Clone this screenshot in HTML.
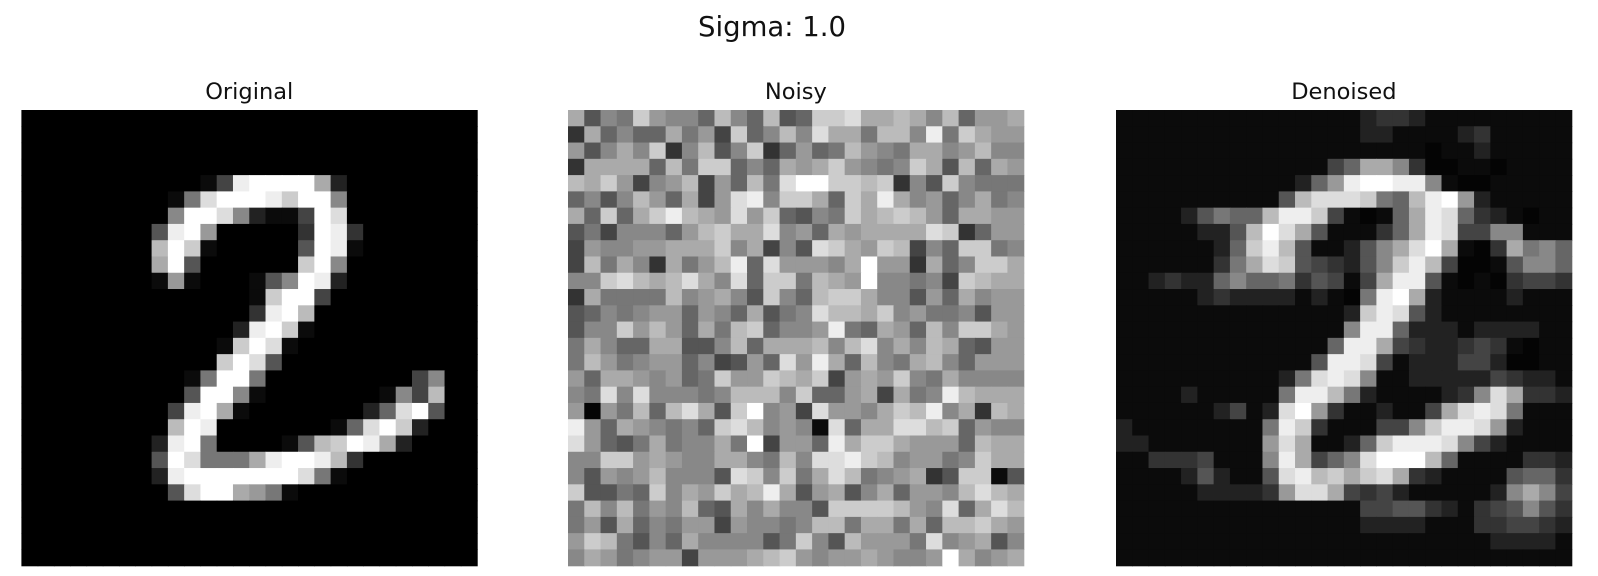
<!DOCTYPE html>
<html><head><meta charset="utf-8"><style>
html,body{margin:0;padding:0;background:#fff;}
svg{display:block;font-family:"DejaVu Sans","Liberation Sans",sans-serif;}
</style></head><body>
<svg id="fig" width="1598" height="576" viewBox="0 0 1598 576" xmlns="http://www.w3.org/2000/svg">
<rect x="0" y="0" width="1598" height="576" fill="#fff"/>
<text x="772" y="36" font-size="27.5" text-anchor="middle" fill="#111">Sigma: 1.0</text>
<g id="panels"></g>
</svg>
<script>
const panelTitles = ["Original", "Noisy", "Denoised"];
const originalRows = [
"0000000000000000000000000000","0000000000000000000000000000","0000000000000000000000000000","0000000000000000000000000000",
"0000000000014effffa200000000","00000000017dfffecff800000000","0000000008ffd82114fd00000000","000000005ef9000003fe30000000",
"00000000bfc1000005fe10000000","00000000af5000000cf800000000","00000000191000158fe200000000","000000000000001cff4000000000",
"000000000000003efb0000000000","00000000000002efc10000000000","0000000000001cfd100000000000","000000000000cfd5000000000000",
"000000000017ff70000000004800","00000000005ff810000000184b00","0000000004efa1000000026df500","000000000bfe000000016dfc2000",
"000000002ef7000015bcfea20000","000000005fd777aeffeb30000000","000000002efffffffd7100000000","0000000005dffa97100000000000",
"0000000000000000000000000000","0000000000000000000000000000","0000000000000000000000000000","0000000000000000000000000000"];
const noisyRows = [
"a587c9886b86b56ccdaaba8b699a","3a6866a794c68b8daa7bb8e7ca99","958a8c38b58c36967b987aa89b88","3aaaa6b7cc686a9ac9878ca5b6a9",
"bac9489b496b7dffccbc385c8777","6858b96a49de8cca6caea8968a78","a6c6aceba9d9c6587cabcb96aa99","57488869bcaad896a9aaaadc3699",
"498899aaac8a485dca9cb486cc78","4b7a83a79be6d9998af993a68cca","88cdbabda8d6cc7ba9f88784cbaa","3a7777b89a85c86bcca88596a899",
"56878996986a578dbbac89778599","588c9b96a7bc6889e76a96b8cca9","7a866aa558b6aaab8bd8a8ba6599","7b97899684596d9ea6b87ab86999",
"96aa98967c99cbac49a9c87a8888","87d8d88878bbb8c669a4a78ebaaa","9097b6bda5cf894d998acbe8a3ba","e96a98786cdb8981d6aaddbc6988",
"d9657a788a7f4996eacca9996baa","88cc9a988aa87b8ddecb89978caa","85989b8885dc8c7adb789a35cc15","c5576c8a9cabea59a58a6998bdba",
"7b8b798b65a8a885ccccb98d6adb","795a68799498878bb7aa7a6bbca9","9cb7586a888857c85b9997d89a58","8a978994999abc9899a9889fa89a"];
const denoisedRows = [
"1111111111111112332111111111","1111111111111112211112311111","1111111111111111111011211111","111111111111146aa83001101111",
"11111111111269effee810011111","11111111115bdddc76bef9211111","111125766beec41016aed6321011","11111225bfda511136aed4488111",
"11111126ceb511258adfa103a786","11111137adc543258ceb40015886","1123226866735414aee510103443","1111123222212107efa211112111",
"111111111111112ced5211111111","111111111111118ee62221222211","11111111111116eea43223431011","1111111111115eed412224420011",
"111111111127ded8112222243221","11112111117eeb721111238da332","1111112412df93112114aded7111","2111111117ec3111448ceed92111",
"2211111119da1126ceeed8421111","1133341118ea468dfffb61111332","1111252115debcacda3211115663","11111222239dda43421111128a84",
"1111111111111114455321345853","1111111111111112222111334432","1111111111111111111111122221","1111111111111111111111111111"];
const panelData = [originalRows, noisyRows, denoisedRows];

const axX0 = [21.4, 568, 1116], axY0 = 110, axSize = 455.7, n = 28;
const cell = axSize / n;
function xPos(p, c){ return axX0[p] + c * cell; }
function yPos(r){ return axY0 + r * cell; }
function gray(d){
  const k = parseInt(d,16);
  const v = k === 0 ? 4 : (k === 1 ? 11 : k * 17);
  return "rgb(" + v + "," + v + "," + v + ")";
}

const NS = "http://www.w3.org/2000/svg";
const root = document.getElementById("panels");
for (let p = 0; p < 3; p++) {
  const g = document.createElementNS(NS, "g");
  
  
  const t = document.createElementNS(NS, "text");
  t.setAttribute("x", axX0[p] + axSize / 2);
  t.setAttribute("y", 99);
  t.setAttribute("font-size", "22.5");
  t.setAttribute("text-anchor", "middle");
  t.setAttribute("fill", "#111");
  
  
  t.textContent = panelTitles[p];
  g.appendChild(t);
  const rows = panelData[p];
  for (let r = 0; r < n; r++) {
    const row = (rows[r] + "0000000000000000000000000000").slice(0, n);
    for (let c = 0; c < n; c++) {
      const rect = document.createElementNS(NS, "rect");
      rect.setAttribute("x", xPos(p, c).toFixed(2));
      rect.setAttribute("y", yPos(r).toFixed(2));
      rect.setAttribute("width", (cell + 0.6).toFixed(2));
      rect.setAttribute("height", (cell + 0.6).toFixed(2));
      rect.setAttribute("fill", p === 0 && row[c] === "0" ? "#000" : gray(row[c]));
      
      
      g.appendChild(rect);
    }
  }
  root.appendChild(g);
}
</script>
</body></html>
